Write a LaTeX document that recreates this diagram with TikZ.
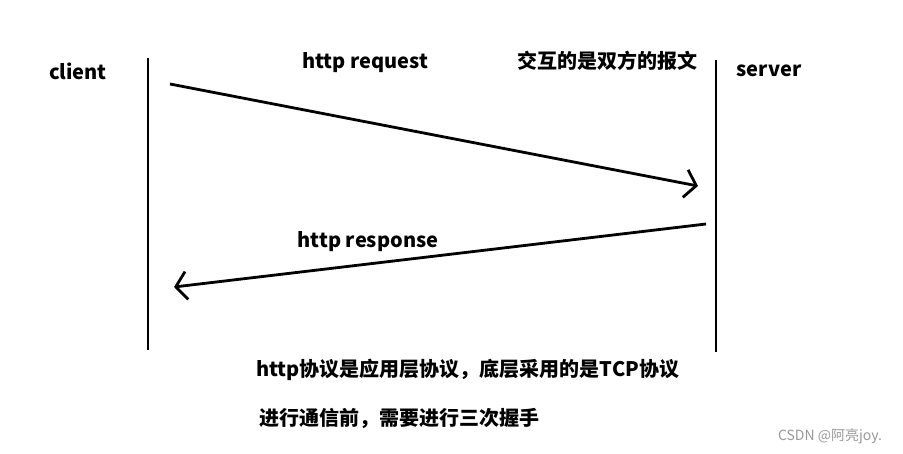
\documentclass[tikz,border=0pt]{standalone}
\usepackage{fontspec}
\setmainfont{Noto Sans CJK SC}
\usetikzlibrary{arrows.meta}
\begin{document}
\begin{tikzpicture}[x=1pt,y=-1pt,
  lbl/.style={font=\bfseries\fontsize{20}{22}\selectfont, inner sep=0pt},
  life/.style={line width=2.8pt},
  msg/.style={line width=2.8pt, -{Straight Barb[length=11pt,width=28pt,line width=2.8pt]}}]
\useasboundingbox (0,0) rectangle (903,454);
\fill[white] (0,0) rectangle (903,454);
\coordinate (cl1) at (148,58);
\coordinate (cl2) at (148,350);
\coordinate (sv1) at (716,60);
\coordinate (sv2) at (716,352);
\draw[life] (cl1) -- (cl2);
\draw[life] (sv1) -- (sv2);
\node[lbl] (client) at (78,71) {client};
\node[lbl] (server) at (769,71) {server};
\node[lbl] (req) at (365,63) {http request};
\node[lbl] (note) at (607,61) {交互的是双方的报文};
\coordinate (rq1) at (170,84);
\coordinate (rq2) at (698,186);
\draw[msg] (rq1) -- (rq2);
\coordinate (rs1) at (706,224);
\coordinate (rs2) at (174,287);
\draw[msg] (rs1) -- (rs2);
\node[lbl] (resp) at (368,242) {http response};
\node[lbl, anchor=west] (l1) at (256,370) {http协议是应用层协议，底层采用的是TCP协议};
\node[lbl, anchor=west] (l2) at (259,418) {进行通信前，需要进行三次握手};
\node[font=\fontsize{14}{16}\selectfont, text=black!40, inner sep=0pt] (wm) at (830,436) {CSDN @阿亮joy.};
\end{tikzpicture}
\end{document}
